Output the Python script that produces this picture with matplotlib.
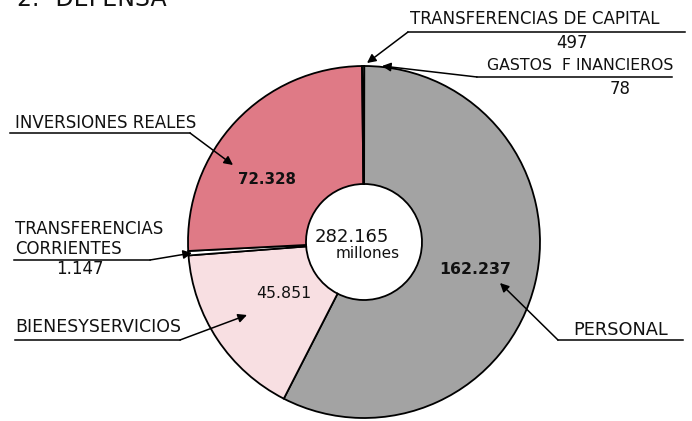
import matplotlib.pyplot as plt

# Presupuesto de Defensa (millones), en orden horario desde arriba
partidas = ['GASTOS FINANCIEROS', 'PERSONAL', 'BIENES Y SERVICIOS',
            'TRANSFERENCIAS CORRIENTES', 'INVERSIONES REALES',
            'TRANSFERENCIAS DE CAPITAL']
importes = [78, 162237, 45851, 1147, 72328, 497]
etiquetas_importe = ['78', '162.237', '45.851', '1.147', '72.328', '497']
colores = ['white', '#a3a3a3', '#f8dfe2', 'white', '#df7a86', 'white']
total_txt = '282.165'

W, H = 692, 421
def Y(y):
    return H - y

fig = plt.figure(figsize=(W / 100, H / 100), dpi=100)
ax = fig.add_axes([0, 0, 1, 1])
ax.set_xlim(0, W)
ax.set_ylim(0, H)
ax.set_aspect('equal')
ax.axis('off')

R, r_in = 176, 58
cx, cy = 364, 242
ax.pie(importes, colors=colores, startangle=90, counterclock=False,
       center=(cx, Y(cy)), radius=R,
       wedgeprops=dict(width=R - r_in, edgecolor='black', linewidth=1.3))
ax.set_xlim(0, W)
ax.set_ylim(0, H)

txt = dict(color='#111111', family='DejaVu Sans')

ax.text(17, Y(11), '2.- DEFENSA', fontsize=17, va='bottom', ha='left', **txt)

# centro
ax.text(352, Y(237), total_txt, fontsize=13, ha='center', va='center', **txt)
ax.text(368, Y(254), 'millones', fontsize=11, ha='center', va='center', **txt)

# importes dentro de los sectores
ax.text(267, Y(180), etiquetas_importe[4], fontsize=10.8, fontweight='bold',
        ha='center', va='center', **txt)
ax.text(284, Y(293), etiquetas_importe[2], fontsize=11.3,
        ha='center', va='center', **txt)
ax.text(475, Y(270), etiquetas_importe[1], fontsize=11.3, fontweight='bold',
        ha='center', va='center', **txt)


def leader(x0, x1, yline, tip, start):
    ax.plot([x0, x1], [Y(yline), Y(yline)], color='black', lw=1.1)
    ax.annotate('', xy=(tip[0], Y(tip[1])), xytext=(start[0], Y(start[1])),
                arrowprops=dict(arrowstyle='-|>', color='black', lw=1.1,
                                mutation_scale=13, shrinkA=0, shrinkB=0))


fs = 12
# Transferencias de capital
ax.text(535, Y(19), partidas[5], fontsize=fs, ha='center', va='center', **txt)
ax.text(572, Y(43), etiquetas_importe[5], fontsize=fs, ha='center', va='center', **txt)
leader(408, 685, 32, (367, 63), (408, 32))

# Gastos financieros
ax.text(580, Y(65), 'GASTOS  F INANCIEROS', fontsize=11.3, ha='center', va='center', **txt)
ax.text(620, Y(89), etiquetas_importe[0], fontsize=fs, ha='center', va='center', **txt)
leader(477, 672, 77, (382, 66), (477, 77))

# Inversiones reales
ax.text(15, Y(123), partidas[4], fontsize=fs, ha='left', va='center', **txt)
leader(10, 190, 133, (233, 165), (190, 133))

# Transferencias corrientes
ax.text(15, Y(229), 'TRANSFERENCIAS', fontsize=fs, ha='left', va='center', **txt)
ax.text(15, Y(249), 'CORRIENTES', fontsize=fs, ha='left', va='center', **txt)
ax.text(80, Y(269), etiquetas_importe[3], fontsize=fs, ha='center', va='center', **txt)
leader(14, 150, 260, (192, 253), (150, 260))

# Bienes y servicios
ax.text(15, Y(327), 'BIENESYSERVICIOS', fontsize=12.5, ha='left', va='center', **txt)
leader(15, 180, 340, (247, 315), (180, 340))

# Personal
ax.text(573, Y(330), partidas[1], fontsize=12.8, ha='left', va='center', **txt)
leader(558, 683, 340, (500, 283), (558, 340))

fig.savefig('out.png', dpi=100, facecolor='white')
